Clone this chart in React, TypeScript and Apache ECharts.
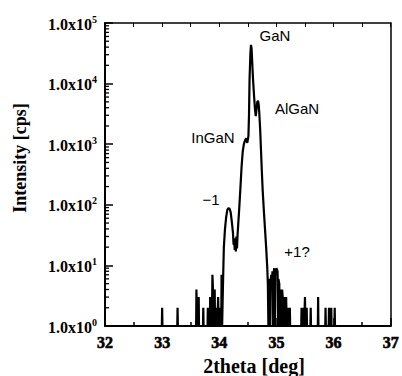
import React, { useEffect, useRef } from "react";
import * as echarts from "echarts";

// 2theta [deg] and intensity [cps] (zero counts drawn at 1)
const twoTheta: number[] = [
  32.0,
  32.995, 33.0, 33.005,
  33.265, 33.27, 33.275,
  33.595, 33.6, 33.61,
  33.635, 33.64, 33.645,
  33.715, 33.72, 33.725,
  33.795, 33.8, 33.805,
  33.835, 33.84, 33.86, 33.87, 33.88, 33.89, 33.9, 33.92, 33.925,
  33.955, 33.96, 33.965,
  33.975, 33.98, 33.99,
  34.005, 34.01, 34.015,
  34.035, 34.04, 34.05,
  34.06, 34.07, 34.08, 34.1, 34.12, 34.14, 34.16, 34.18, 34.2, 34.22, 34.24, 34.25,
  34.26, 34.27, 34.28, 34.29, 34.3, 34.31, 34.32, 34.33, 34.35, 34.37, 34.39, 34.41,
  34.43, 34.45, 34.47, 34.49, 34.51, 34.52, 34.53, 34.545, 34.555, 34.565, 34.575,
  34.59, 34.61, 34.625, 34.638, 34.65, 34.665, 34.678, 34.69, 34.7, 34.715, 34.73,
  34.745, 34.76, 34.78, 34.8, 34.82, 34.84, 34.85, 34.86, 34.865, 34.87, 34.88, 34.89,
  34.895, 34.91, 34.92, 34.93, 34.94, 34.945, 34.96, 34.97, 34.975, 34.98, 35.0, 35.02,
  35.03, 35.035, 35.05, 35.06, 35.065, 35.08, 35.09, 35.1, 35.11, 35.12, 35.14, 35.15,
  35.17, 35.18, 35.2, 35.21, 35.235, 35.24,
  35.435, 35.44, 35.445,
  35.475, 35.48, 35.485,
  35.495, 35.5, 35.505,
  35.525, 35.53, 35.535,
  35.595, 35.6, 35.605,
  35.725, 35.73, 35.735,
  35.855, 35.86, 35.865,
  35.915, 35.92, 35.925,
  35.955, 35.96, 35.965,
  36.015, 36.02, 36.025,
  37.0,
];

const intensity: number[] = [
  1,
  1, 2, 1,
  1, 2, 1,
  1, 4, 1,
  1, 3, 1,
  1, 2, 1,
  1, 2, 1,
  1, 3, 2, 1, 7, 4, 1, 4, 1,
  1, 2, 1,
  1, 3, 1,
  1, 2, 1,
  1, 7, 1,
  3, 8, 20, 40, 62, 82, 88, 86, 75, 52, 34, 22,
  28, 18, 26, 17, 30, 19, 32, 45, 90, 190, 420, 750,
  1000, 1150, 1250, 1050, 1350, 3000, 12000, 32000, 43600, 38000, 24000,
  12000, 6000, 3800, 2900, 3600, 5000, 5200, 4500, 3300, 1800, 800,
  350, 170, 80, 40, 20, 9, 5, 1, 4, 6, 3, 1,
  5, 7, 4, 8, 1, 6, 9, 5, 1, 7, 9, 8,
  1, 6, 5, 1, 4, 3, 1, 4, 3, 1, 3, 1,
  3, 1, 2, 1, 2, 1,
  1, 2, 1,
  1, 2, 1,
  1, 3, 1,
  1, 2, 1,
  1, 2, 1,
  1, 3, 1,
  1, 2, 1,
  1, 2, 1,
  1, 2, 1,
  1, 2, 1,
  1,
];

const xMin = 32;
const xMax = 37;
const yMin = 1;
const yMax = 100000;
const minorMultipliers: number[] = [2, 3, 4, 5, 6, 7, 8, 9];
const decades: number[] = [1, 10, 100, 1000, 10000];

const peakLabels: { text: string; x: number; y: number }[] = [
  { text: "GaN", x: 275, y: 35 },
  { text: "AlGaN", x: 297, y: 108 },
  { text: "InGaN", x: 213, y: 137 },
  { text: "\u22121", x: 211, y: 199 },
  { text: "+1?", x: 297, y: 251 },
];

export default function App() {
  const ref = useRef<HTMLDivElement>(null);

  useEffect(() => {
    if (!ref.current) return;
    const chart = echarts.init(ref.current, undefined, { renderer: "svg" });

    const lineData = twoTheta.map((t, i) => [t, intensity[i]]);
    const minorData: number[][] = [];
    decades.forEach((d) => minorMultipliers.forEach((m) => minorData.push([xMin, d * m])));

    const serif = "Liberation Serif";
    const sans = "'Liberation Sans', Arial, Helvetica, sans-serif";

    chart.setOption({
      animation: false,
      backgroundColor: "#fff",
      grid: { left: 105, right: 9, top: 23, bottom: 50, containLabel: false },
      xAxis: [
        {
          type: "value",
          min: xMin,
          max: xMax,
          interval: 1,
          position: "bottom",
          axisLine: { show: true, onZero: false, lineStyle: { color: "#000", width: 2 } },
          axisTick: { show: true, inside: true, length: 8, lineStyle: { color: "#000", width: 1.5 } },
          minorTick: { show: true, splitNumber: 2, length: 4, lineStyle: { color: "#000", width: 1.5 } },
          splitLine: { show: false },
          minorSplitLine: { show: false },
          axisLabel: {
            show: true,
            showMinLabel: true,
            showMaxLabel: true,
            margin: 8,
            color: "#000",
            fontSize: 16,
            fontWeight: 700,
            fontFamily: serif,
            textBorderColor: "#000",
            textBorderWidth: 0.6,
          },
        },
        {
          type: "value",
          min: xMin,
          max: xMax,
          interval: 0.5,
          position: "top",
          axisLine: { show: true, onZero: false, lineStyle: { color: "#000", width: 1.5 } },
          axisTick: { show: true, inside: true, length: 4, lineStyle: { color: "#000", width: 1 } },
          axisLabel: { show: false },
          splitLine: { show: false },
        },
      ],
      yAxis: [
        {
          type: "log",
          logBase: 10,
          min: yMin,
          max: yMax,
          position: "left",
          axisLine: { show: true, onZero: false, lineStyle: { color: "#000", width: 2 } },
          axisTick: { show: true, inside: true, length: 8, lineStyle: { color: "#000", width: 1.5 } },
          splitLine: { show: false },
          axisLabel: {
            show: true,
            margin: 8,
            formatter: (v: number) => {
              const e = Math.round(Math.log10(v));
              return `{b|1.0x10}{s|${e}}`;
            },
            rich: {
              b: { fontSize: 16, fontWeight: 700, fontFamily: serif, color: "#000", lineHeight: 18, verticalAlign: "bottom" },
              s: { fontSize: 10, fontWeight: 700, fontFamily: serif, color: "#000", lineHeight: 18, verticalAlign: "top" },
            },
          },
        },
        {
          type: "log",
          logBase: 10,
          min: yMin,
          max: yMax,
          position: "right",
          axisLine: { show: true, onZero: false, lineStyle: { color: "#000", width: 1.5 } },
          axisTick: { show: false },
          axisLabel: { show: false },
          splitLine: { show: false },
        },
      ],
      series: [
        {
          type: "line",
          xAxisIndex: 0,
          yAxisIndex: 0,
          data: lineData,
          symbol: "none",
          showSymbol: false,
          clip: true,
          lineStyle: { color: "#000", width: 2.2 },
          z: 3,
        },
        {
          type: "custom",
          xAxisIndex: 0,
          yAxisIndex: 0,
          data: minorData,
          clip: false,
          silent: true,
          renderItem: (params: any, api: any) => {
            const p = api.coord([api.value(0), api.value(1)]);
            return {
              type: "line",
              shape: { x1: p[0], y1: p[1], x2: p[0] + 4, y2: p[1] },
              style: { stroke: "#000", lineWidth: 1.3 },
            };
          },
          z: 4,
        },
      ],
      graphic: [
        ...peakLabels.map((l) => ({
          type: "text",
          x: l.x,
          y: l.y,
          style: {
            text: l.text,
            fill: "#000",
            font: `15px ${sans}`,
            textAlign: "center",
            textVerticalAlign: "middle",
          },
          z: 10,
        })),
        {
          type: "text",
          x: 20,
          y: 158,
          rotation: Math.PI / 2,
          style: {
            text: "Intensity [cps]",
            fill: "#000",
            font: `bold 18px '${serif}', serif`,
            textAlign: "center",
            textVerticalAlign: "middle",
          },
          z: 10,
        },
        {
          type: "text",
          x: 254,
          y: 366,
          style: {
            text: "2theta [deg]",
            fill: "#000",
            font: `bold 20px '${serif}', serif`,
            textAlign: "center",
            textVerticalAlign: "middle",
          },
          z: 10,
        },
      ],
    });

    return () => chart.dispose();
  }, []);

  return (
    <div
      ref={ref}
      style={{ position: "fixed", left: 0, top: 0, width: 402, height: 376 }}
    />
  );
}
